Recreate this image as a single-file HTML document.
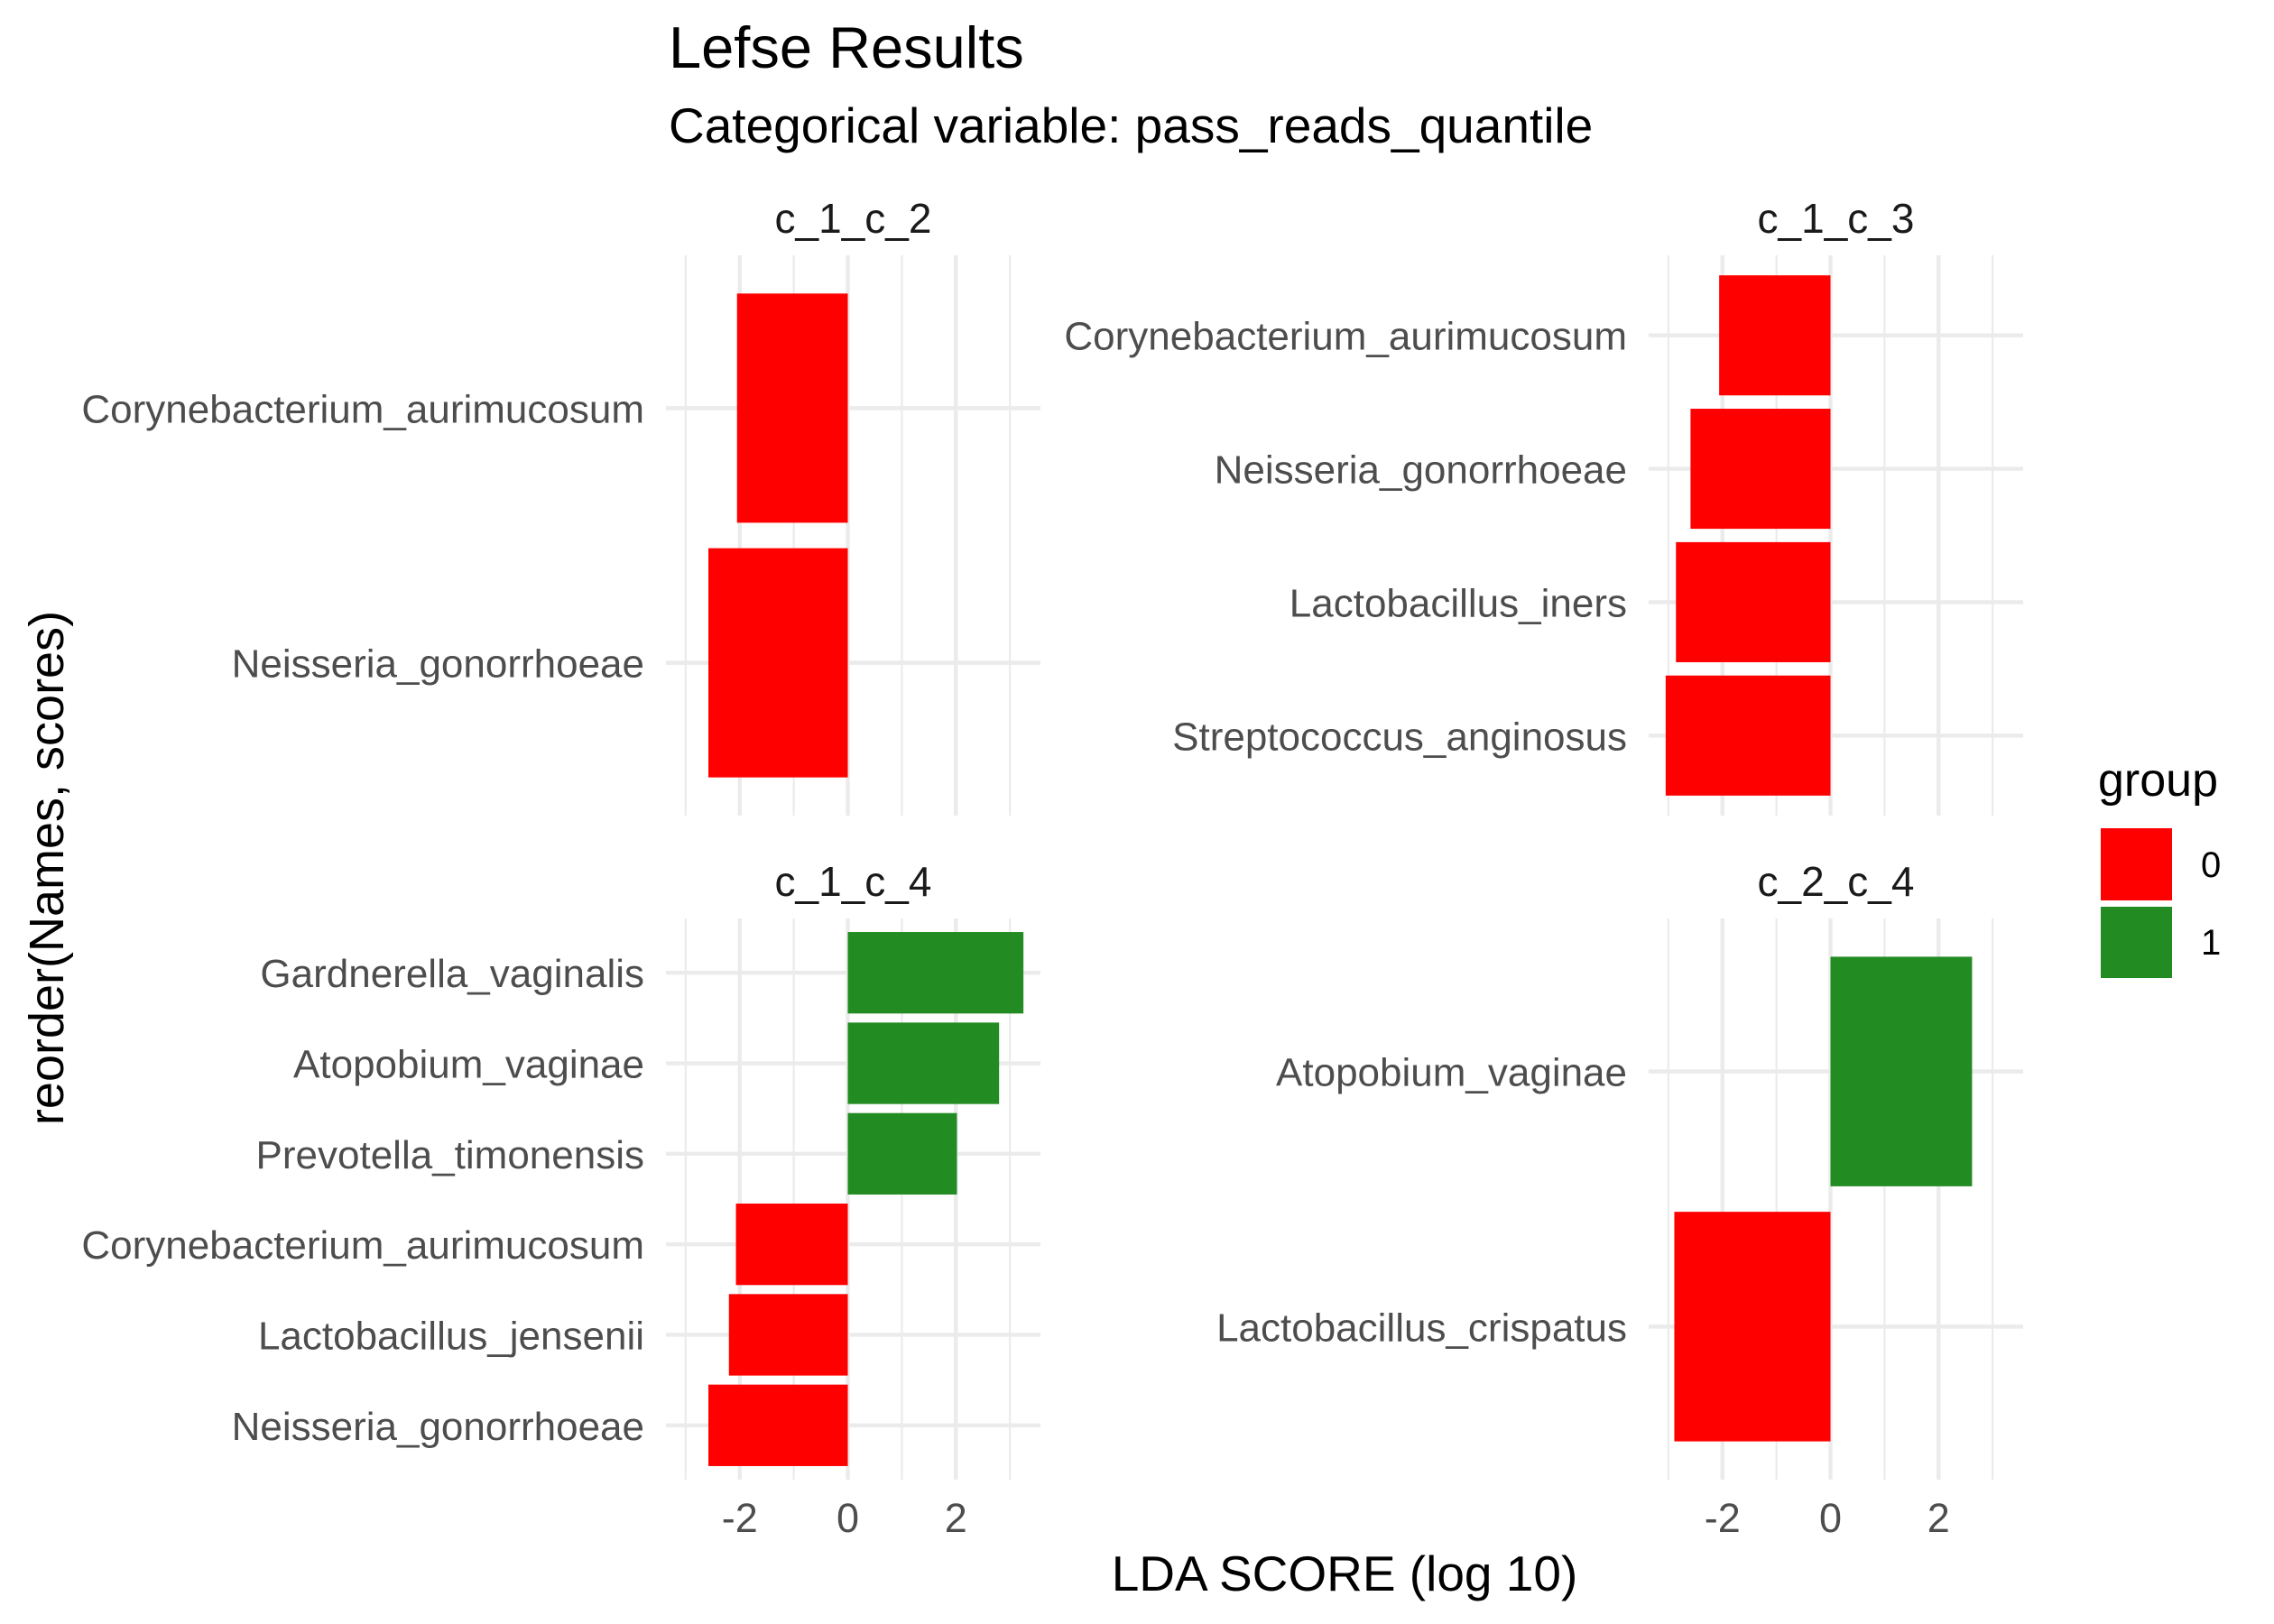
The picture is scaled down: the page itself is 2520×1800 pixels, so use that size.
<!DOCTYPE html>
<html><head><meta charset="utf-8"><style>
html,body{margin:0;padding:0;background:#fff;}
svg{display:block;font-family:"Liberation Sans",Arial,sans-serif;}
</style></head><body>
<svg id="chart" width="2520" height="1800" viewBox="0 0 2520 1800" xmlns="http://www.w3.org/2000/svg">
<rect width="2520" height="1800" fill="#fff"/>
<text x="741" y="75" font-size="65" fill="#000">Lefse Results</text>
<text x="741" y="158" font-size="55" fill="#000">Categorical variable: pass_reads_quantile</text>
<text x="1490" y="1763" font-size="55" fill="#000" text-anchor="middle">LDA SCORE (log 10)</text>
<text transform="translate(70,962) rotate(-90)" font-size="54" fill="#000" text-anchor="middle">reorder(Names, scores)</text>
<g>
<text x="2325" y="882" font-size="52" fill="#000">group</text>
<rect x="2328" y="918" width="79" height="80" fill="#FF0000"/>
<text x="2439" y="972" font-size="40" fill="#000">0</text>
<rect x="2328" y="1005" width="79" height="79" fill="#228B22"/>
<text x="2439" y="1058" font-size="40" fill="#000">1</text>
</g>
<g id="panels"></g>
</svg>
<script>
const panelNames = ["c_1_c_2", "c_1_c_3", "c_1_c_4", "c_2_c_4"];
const namesC12 = ["Corynebacterium_aurimucosum", "Neisseria_gonorrhoeae"];
const scoresC12 = [-2.05, -2.58];
const groupsC12 = [0, 0];
const namesC13 = ["Corynebacterium_aurimucosum", "Neisseria_gonorrhoeae", "Lactobacillus_iners", "Streptococcus_anginosus"];
const scoresC13 = [-2.06, -2.59, -2.86, -3.05];
const groupsC13 = [0, 0, 0, 0];
const namesC14 = ["Gardnerella_vaginalis", "Atopobium_vaginae", "Prevotella_timonensis", "Corynebacterium_aurimucosum", "Lactobacillus_jensenii", "Neisseria_gonorrhoeae"];
const scoresC14 = [3.25, 2.80, 2.02, -2.07, -2.20, -2.58];
const groupsC14 = [1, 1, 1, 0, 0, 0];
const namesC24 = ["Atopobium_vaginae", "Lactobacillus_crispatus"];
const scoresC24 = [2.62, -2.89];
const groupsC24 = [1, 0];
const xTicks = [-2, 0, 2];
const xTickLabels = ["-2", "0", "2"];

const NS = "http://www.w3.org/2000/svg";
const colors = ["#FF0000", "#228B22"];
const layout = [
  {x0:738, x1:1153, y0:283, y1:904, names:namesC12, scores:scoresC12, groups:groupsC12, axis:false},
  {x0:1827, x1:2242, y0:283, y1:904, names:namesC13, scores:scoresC13, groups:groupsC13, axis:false},
  {x0:738, x1:1153, y0:1018, y1:1640, names:namesC14, scores:scoresC14, groups:groupsC14, axis:true},
  {x0:1827, x1:2242, y0:1018, y1:1640, names:namesC24, scores:scoresC24, groups:groupsC24, axis:true}
];
const all = [].concat(scoresC12, scoresC13, scoresC14, scoresC24, [0]);
let dmin = Math.min(...all), dmax = Math.max(...all);
const ex = (dmax - dmin) * 0.05; dmin -= ex; dmax += ex;
function mk(tag, attrs, parent){const e=document.createElementNS(NS,tag);for(const k in attrs)e.setAttribute(k,attrs[k]);parent.appendChild(e);return e;}
const root = document.getElementById("panels");
layout.forEach((p, pi) => {
  const g = mk("g", {}, root);
  
  
  const xs = v => p.x0 + (v - dmin) / (dmax - dmin) * (p.x1 - p.x0);
  const n = p.names.length;
  const ys = c => p.y0 + (n + 0.6 - c) / (n + 0.2) * (p.y1 - p.y0);
  const unitH = (p.y1 - p.y0) / (n + 0.2);
  for (let v = Math.ceil(dmin); v <= dmax; v++) {
    const major = xTicks.indexOf(v) >= 0;
    const l = mk("line", {x1:xs(v), x2:xs(v), y1:p.y0, y2:p.y1, stroke:"#EBEBEB", "stroke-width": major ? 4.4 : 2.2}, g);
    
    
  }
  p.names.forEach((nm, i) => {
    const c = n - i;
    const l = mk("line", {x1:p.x0, x2:p.x1, y1:ys(c), y2:ys(c), stroke:"#EBEBEB", "stroke-width":4.4}, g);
    
    
  });
  p.names.forEach((nm, i) => {
    const c = n - i, v = p.scores[i];
    const r = mk("rect", {x:Math.min(xs(0), xs(v)), y:ys(c) - unitH*0.45, width:Math.abs(xs(v)-xs(0)), height:unitH*0.9, fill:colors[p.groups[i]]}, g);
    
    
    const t = mk("text", {x:p.x0 - 24, y:ys(c) + 16, "font-size":44, fill:"#4D4D4D", "text-anchor":"end"}, g);
    t.textContent = nm;
    
    
  });
  const st = mk("text", {x:(p.x0+p.x1)/2, y:p.y0 - 25, "font-size":46, fill:"#1A1A1A", "text-anchor":"middle"}, g);
  st.textContent = panelNames[pi];
  
  
  if (p.axis) {
    xTicks.forEach((v, k) => {
      const t = mk("text", {x:xs(v), y:p.y1 + 58, "font-size":45, fill:"#4D4D4D", "text-anchor":"middle"}, g);
      t.textContent = xTickLabels[k];
      
      
    });
  }
});
</script>
</body></html>
